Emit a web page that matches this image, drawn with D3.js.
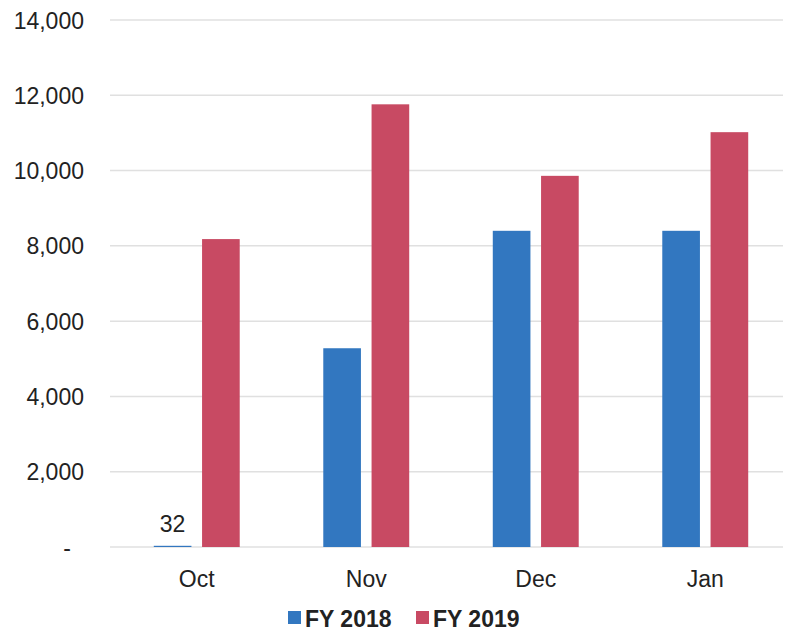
<!DOCTYPE html>
<html><head><meta charset="utf-8">
<script src="https://cdn.jsdelivr.net/npm/d3@7"></script>
<style>body{margin:0;background:#fff}svg{display:block}text{font-family:"Liberation Sans",Arial,sans-serif}</style>
</head><body>
<script>
const categories = ["Oct", "Nov", "Dec", "Jan"];
const seriesNames = ["FY 2018", "FY 2019"];
const fy2018 = [32, 5280, 8400, 8400];
const fy2019 = [8180, 11760, 9860, 11020];
const yTicks = [0, 2000, 4000, 6000, 8000, 10000, 12000, 14000];
const colors = ["#3277c0", "#c84a63"];
const dataLabels = [{cat: "Oct", series: "FY 2018", value: 32}];

(function () {
const W = 785, H = 632;
const svg = d3.select("body").append("svg").attr("width", W).attr("height", H);
const mLeft = 112, mRight = 790, mTop = 20, mBottom = 547;

const y = d3.scaleLinear().domain([0, 14000]).range([mBottom, mTop]);
const x0 = d3.scaleBand().domain(categories).range([mLeft, mRight]).paddingInner(0.493).paddingOuter(0.2465);
const x1 = d3.scaleBand().domain(seriesNames).range([0, x0.bandwidth()]).paddingInner(0.22);

// gridlines
svg.append("g").selectAll("line").data(yTicks).join("line")
  .attr("x1", mLeft - 2).attr("x2", 783)
  .attr("y1", d => y(d)).attr("y2", d => y(d))
  .attr("stroke", "#e0e0e0").attr("stroke-width", 1.5);

// y axis
const yAxis = d3.axisLeft(y).tickValues(yTicks).tickSize(0).tickPadding(0)
  .tickFormat(d => d === 0 ? "-" : d3.format(",")(d));
const gy = svg.append("g").attr("transform", "translate(84,0)").call(yAxis);
gy.select(".domain").remove();
gy.selectAll("text").attr("font-size", 23).attr("fill", "#222")
  .attr("font-family", "'Liberation Sans',Arial,sans-serif")
  .attr("dx", d => d === 0 ? -13 : 0).attr("dy", "0.35em");

// bars
const rows = categories.map((c, i) => ({cat: c, vals: [fy2018[i], fy2019[i]]}));
const g = svg.append("g");
rows.forEach(r => {
  r.vals.forEach((v, j) => {
    g.append("rect")
      .attr("x", x0(r.cat) + x1(seriesNames[j]))
      .attr("y", y(v))
      .attr("width", x1.bandwidth())
      .attr("height", y(0) - y(v))
      .attr("fill", colors[j]);
  });
});

// data labels
svg.append("g").selectAll("text").data(dataLabels).join("text")
  .attr("x", d => x0(d.cat) + x1(d.series) + x1.bandwidth() / 2)
  .attr("y", d => y(d.value) - 14)
  .attr("text-anchor", "middle").attr("font-size", 23).attr("fill", "#222")
  .text(d => d3.format(",")(d.value));

// x axis
const xAxis = d3.axisBottom(x0).tickSize(0).tickPadding(0);
const gx = svg.append("g").attr("transform", `translate(0,${mBottom})`).call(xAxis);
gx.select(".domain").remove();
gx.selectAll("text").attr("font-size", 23).attr("fill", "#222")
  .attr("font-family", "'Liberation Sans',Arial,sans-serif")
  .attr("y", 40).attr("dy", 0);

// legend
const legendX = [288, 416];
const lg = svg.append("g");
seriesNames.forEach((s, i) => {
  lg.append("rect").attr("x", legendX[i]).attr("y", 611).attr("width", 13).attr("height", 13).attr("fill", colors[i]);
  lg.append("text").attr("x", legendX[i] + 17).attr("y", 627)
    .attr("font-size", 23).attr("font-weight", "bold").attr("fill", "#222").text(s);
});
})();
</script>
</body></html>
